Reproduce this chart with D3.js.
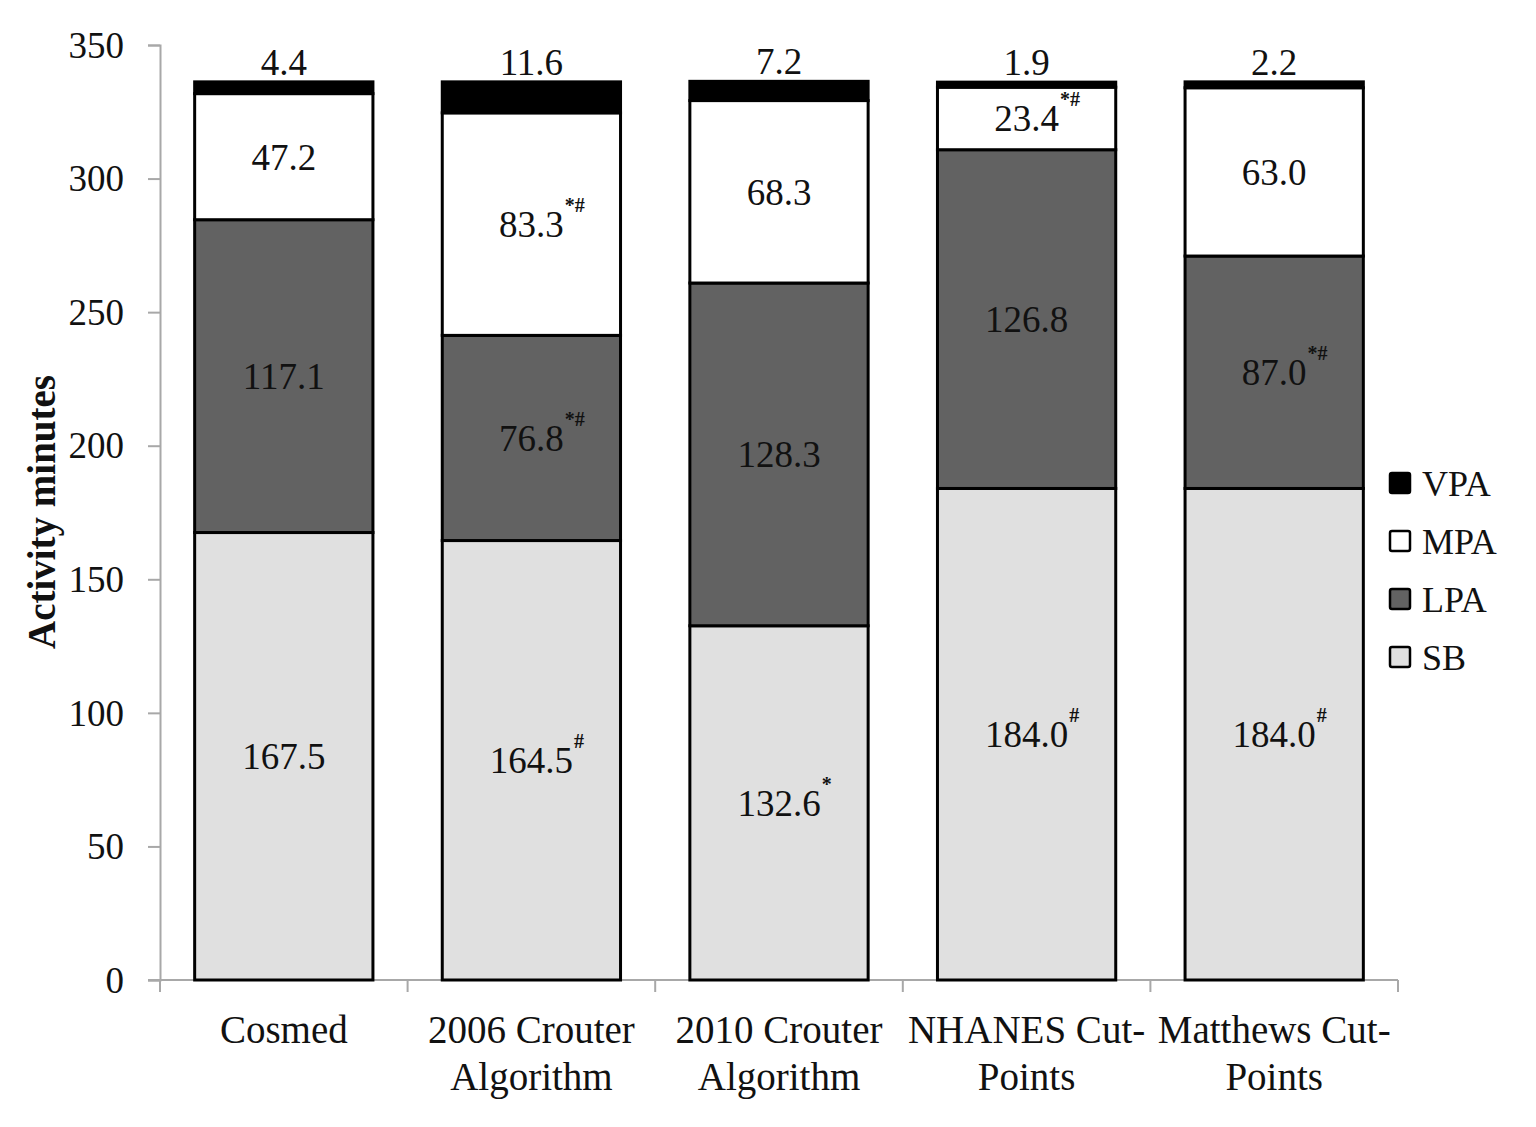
<!DOCTYPE html>
<html><head><meta charset="utf-8">
<script src="https://cdn.jsdelivr.net/npm/d3@7"></script>
<style>body{margin:0;background:#fff}text{font-family:"Liberation Serif","Times New Roman",serif}</style>
</head><body>
<svg id="c" width="1536" height="1127"></svg>
<script>
const categories = [["Cosmed"],["2006 Crouter","Algorithm"],["2010 Crouter","Algorithm"],["NHANES Cut-","Points"],["Matthews Cut-","Points"]];
const series = ["SB","LPA","MPA","VPA"];
const SB  = [167.5, 164.5, 132.6, 184.0, 184.0];
const LPA = [117.1, 76.8, 128.3, 126.8, 87.0];
const MPA = [47.2, 83.3, 68.3, 23.4, 63.0];
const VPA = [4.4, 11.6, 7.2, 1.9, 2.2];
const SB_sup  = ["", "#", "*", "#", "#"];
const LPA_sup = ["", "*#", "", "", "*#"];
const MPA_sup = ["", "*#", "", "*#", ""];
const VPA_sup = ["", "", "", "", ""];
const yTicks = [0,50,100,150,200,250,300,350];
const colors = {SB:"#e0e0e0", LPA:"#626262", MPA:"#ffffff", VPA:"#000000"};

const values = {SB, LPA, MPA, VPA};
const sups = {SB:SB_sup, LPA:LPA_sup, MPA:MPA_sup, VPA:VPA_sup};
const svg = d3.select("#c");
const x0 = 160, x1 = 1398, yTop = 45, yBot = 980;
const x = d3.scaleBand().domain(d3.range(categories.length)).range([x0, x1]).padding(0);
const y = d3.scaleLinear().domain([0,350]).range([yBot, yTop]);
const barW = x.bandwidth()*0.72;

// axes
const gy = svg.append("g").attr("transform",`translate(${x0},0)`)
  .call(d3.axisLeft(y).tickValues(yTicks).tickSize(12).tickPadding(24));
gy.select(".domain").attr("stroke","#a8a8a8").attr("stroke-width",2);
gy.selectAll(".tick line").attr("stroke","#a8a8a8").attr("stroke-width",2);
gy.selectAll(".tick text").attr("font-size",37).attr("fill","#111").attr("font-family","Liberation Serif").attr("dy","0.33em");

const gx = svg.append("g").attr("transform",`translate(0,${yBot})`);
gx.append("line").attr("x1",x0-12).attr("x2",x1).attr("stroke","#a8a8a8").attr("stroke-width",2);
d3.range(categories.length+1).forEach(i=>{
  const xx = i<categories.length ? x(i) : x1;
  gx.append("line").attr("x1",xx).attr("x2",xx).attr("y1",0).attr("y2",12).attr("stroke","#a8a8a8").attr("stroke-width",2);
});
categories.forEach((lines,i)=>{
  lines.forEach((t,j)=>{
    gx.append("text").attr("x",x(i)+x.bandwidth()/2).attr("y",63+j*47).attr("text-anchor","middle")
      .attr("font-size",39).attr("fill","#111").text(t);
  });
});

// stacked bars
const stack = d3.stack().keys(series)(categories.map((c,i)=>{const o={}; series.forEach(s=>o[s]=values[s][i]); return o;}));
const bars = svg.append("g");
stack.forEach(layer=>{
  const key = layer.key;
  layer.forEach((d,i)=>{
    const cx = x(i)+x.bandwidth()/2;
    bars.append("rect").attr("x",cx-barW/2).attr("y",y(d[1])).attr("width",barW).attr("height",y(d[0])-y(d[1]))
      .attr("fill",colors[key]).attr("stroke","#000").attr("stroke-width",3);
  });
});
// labels
stack.forEach(layer=>{
  const key = layer.key;
  layer.forEach((d,i)=>{
    const cx = x(i)+x.bandwidth()/2;
    const v = values[key][i];
    const ly = key==="VPA" ? y(d[1]) - 20 : (y(d[0])+y(d[1]))/2;
    const t = svg.append("text").attr("x",cx).attr("y",ly).attr("dy","0.35em").attr("text-anchor","middle")
      .attr("font-size",37).attr("fill","#111").text(v.toFixed(1));
    const s = sups[key][i];
    if (s) {
      const w = t.node().getComputedTextLength();
      svg.append("text").attr("x",cx+w/2+1).attr("y",ly-12).attr("font-size",20).attr("font-weight","bold").attr("fill","#111").text(s);
    }
  });
});

// y title
svg.append("text").attr("transform","translate(55,512) rotate(-90)").attr("text-anchor","middle")
  .attr("font-size",39).attr("font-weight","bold").attr("fill","#111").text("Activity minutes");

// legend
const leg = svg.append("g");
series.slice().reverse().forEach((s,i)=>{
  const ly = 483 + i*58;
  leg.append("rect").attr("x",1390).attr("y",ly-10).attr("width",20).attr("height",20)
    .attr("fill",colors[s]).attr("stroke","#000").attr("stroke-width",2.5).attr("rx",2);
  leg.append("text").attr("x",1422).attr("y",ly).attr("dy","0.35em").attr("font-size",36).attr("fill","#111").text(s);
});
</script>
</body></html>
